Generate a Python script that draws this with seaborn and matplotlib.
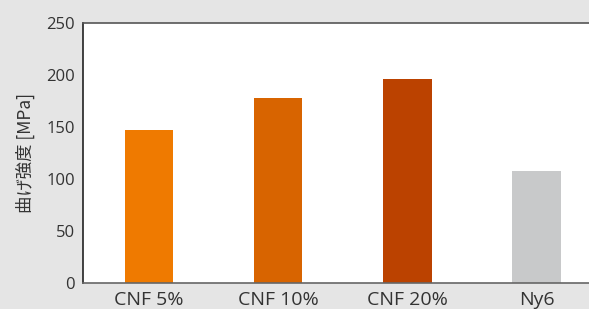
import matplotlib
matplotlib.use("Agg")
import matplotlib.pyplot as plt
import seaborn as sns
import pandas as pd

categories = ["CNF 5%", "CNF 10%", "CNF 20%", "Ny6"]
values = [147, 178, 196, 108]
colors = ["#EF7A00", "#D86400", "#BB4200", "#C8C9CA"]
yticks = [0, 50, 100, 150, 200, 250]

sns.set_theme(style="white")
plt.rcParams['font.family'] = ['Noto Sans CJK JP', 'DejaVu Sans']

df = pd.DataFrame({"cat": categories, "val": values})

fig = plt.figure(figsize=(5.89, 3.09), dpi=100, facecolor="#E5E5E5")
W, H = 589, 309
ax = fig.add_axes([83 / W, (H - 283) / H, 1 - 83 / W + 0.01, 260 / H])
ax.set_facecolor("white")
sns.barplot(data=df, x="cat", y="val", hue="cat", palette=colors, width=0.375,
            legend=False, ax=ax, saturation=1, linewidth=0)
ax.set_xlim(-0.51, 3.45)
ax.set_ylim(0, 250)
ax.set_yticks(yticks)
ax.set_xlabel("")
ax.set_ylabel("曲げ強度 [MPa]", fontsize=12.5, color="#333333", labelpad=8)
ax.tick_params(axis="y", length=0, labelsize=12, colors="#333333", pad=6)
ax.tick_params(axis="x", length=0, labelsize=14, colors="#333333", pad=6)
for lab in ax.get_xticklabels() + ax.get_yticklabels():
    lab.set_fontfamily(['Open Sans', 'DejaVu Sans'])
ax.spines["right"].set_visible(False)
ax.spines["left"].set_color("#222222")
ax.spines["top"].set_color("#555555")
ax.spines["bottom"].set_color("#666666")
for s in ["left", "top", "bottom"]:
    ax.spines[s].set_linewidth(1.2)
fig.savefig("out.png", dpi=100, facecolor=fig.get_facecolor())
